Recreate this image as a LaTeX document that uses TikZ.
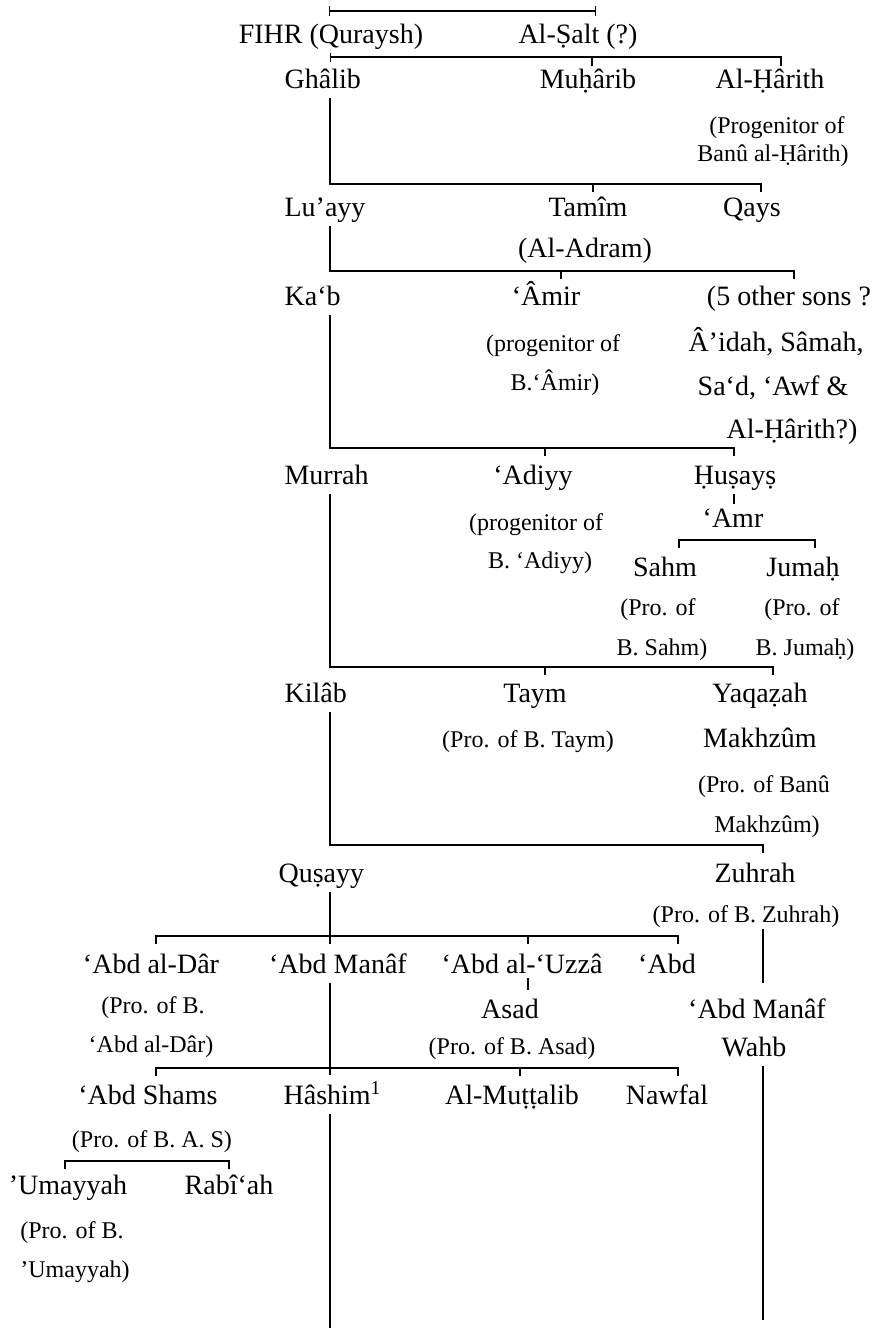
\documentclass[tikz,border=0pt]{standalone}
\usepackage{fontspec}
\setmainfont{Liberation Serif}
\usepackage{tikz}
\usetikzlibrary{arrows.meta, calc}

\begin{document}
\begin{tikzpicture}[x=1pt, y=-1pt, line width=1.2pt,
  name node/.style={anchor=base, inner sep=2pt, text height=20pt, text depth=7pt, font=\fontsize{28}{32}\selectfont},
  trunk node/.style={name node, anchor=base west},
  note node/.style={anchor=base, inner sep=1pt, font=\fontsize{24}{28}\selectfont}]

		\useasboundingbox (0,0) rectangle (881,1328);

		% Nodes
		\node[name node] (fihr) at (331,43) {FIHR (Quraysh)};
		\node[name node] (salt) at (578,43) {Al-Ṣalt (?)};

		\node[trunk node] (ghalib) at (282,88) {Ghâlib};
		\node[name node] (muharib) at (588,88) {Muḥârib};
		\node[name node] (harith) at (770,88) {Al-Ḥârith};
		\node[note node] (harith note a) at (777,133) {(Progenitor of};
		\node[note node] (harith note b) at (773,161) {Banû al-Ḥârith)};

		\node[trunk node] (luayy) at (282,216) {Lu’ayy};
		\node[name node] (tamim) at (588,216) {Tamîm};
		\node[name node] (qays) at (752,216) {Qays};
		\node[name node] (adram) at (585,257) {(Al-Adram)};

		\node[trunk node] (kab) at (282,305) {Ka‘b};
		\node[name node] (amir) at (546,305) {‘Âmir};
		\node[note node] (amir note a) at (553,351) {(progenitor of};
		\node[note node] (amir note b) at (555,390) {B.‘Âmir)};
		\node[name node] (sons a) at (789,305) {(5 other sons ?};
		\node[name node] (sons b) at (776,351) {Â’idah, Sâmah,};
		\node[name node] (sons c) at (773,395) {Sa‘d, ‘Awf \&};
		\node[name node] (sons d) at (792,438) {Al-Ḥârith?)};

		\node[trunk node] (murrah) at (282,484) {Murrah};
		\node[name node] (adiyy) at (533,484) {‘Adiyy};
		\node[note node] (adiyy note a) at (536,530) {(progenitor of};
		\node[note node] (adiyy note b) at (540,568) {B. ‘Adiyy)};
		\node[name node] (husays) at (735,484) {Ḥuṣayṣ};
		\node[name node] (amr) at (733,527) {‘Amr};
		\node[name node] (sahm) at (665,576) {Sahm};
		\node[name node] (jumah) at (803,576) {Jumaḥ};
		\node[note node] (sahm note a) at (658,615) {(Pro. of};
		\node[note node] (sahm note b) at (662,655) {B. Sahm)};
		\node[note node] (jumah note a) at (802,615) {(Pro. of};
		\node[note node] (jumah note b) at (805,655) {B. Jumaḥ)};

		\node[trunk node] (kilab) at (282,702) {Kilâb};
		\node[name node] (taym) at (535,702) {Taym};
		\node[note node] (taym note) at (528,747) {(Pro. of B. Taym)};
		\node[name node] (yaqazah) at (760,702) {Yaqaẓah};
		\node[name node] (makhzum) at (760,747) {Makhzûm};
		\node[note node] (makhzum note a) at (764,792) {(Pro. of Banû};
		\node[note node] (makhzum note b) at (767,832) {Makhzûm)};

		\node[trunk node] (qusayy) at (276,882) {Quṣayy};
		\node[name node] (zuhrah) at (755,882) {Zuhrah};
		\node[note node] (zuhrah note) at (746,922) {(Pro. of B. Zuhrah)};

		\node[name node] (abd dar) at (151,973) {‘Abd al-Dâr};
		\node[note node] (dar note a) at (153,1013) {(Pro. of B.};
		\node[note node] (dar note b) at (151,1052) {‘Abd al-Dâr)};
		\node[name node] (abd manaf) at (338,973) {‘Abd Manâf};
		\node[name node] (uzza) at (522,973) {‘Abd al-‘Uzzâ};
		\node[name node] (asad) at (510,1018) {Asad};
		\node[note node] (asad note) at (512,1054) {(Pro. of B. Asad)};
		\node[name node] (abd manaf z) at (757,1018) {‘Abd Manâf};
		\node[name node] (abd) at (667,973) {‘Abd};
		\node[name node] (wahb) at (754,1056) {Wahb};

		\node[name node] (abd shams) at (148,1104) {‘Abd Shams};
		\node[note node] (shams note) at (152,1147) {(Pro. of B. A. S)};
		\node[trunk node] (hashim) at (281,1104) {Hâshim\textsuperscript{1}};
		\node[name node] (muttalib) at (512,1104) {Al-Muṭṭalib};
		\node[name node] (nawfal) at (667,1104) {Nawfal};

		\node[name node] (umayyah) at (68,1194) {’Umayyah};
		\node[name node] (rabiah) at (229,1194) {Rabî‘ah};
		\node[note node] (umayyah note a) at (72,1238) {(Pro. of B.};
		\node[note node] (umayyah note b) at (75,1277) {’Umayyah)};

		% Bar points
		\coordinate (trunk) at (330,0);
		\coordinate (right trunk) at (763,0);
		\coordinate (b1a) at (329,11);  \coordinate (b1b) at (596,11);
		\coordinate (b2a) at (330,57);  \coordinate (b2b) at (592,57);  \coordinate (b2c) at (781,57);
		\coordinate (b3a) at (330,184); \coordinate (b3b) at (593,184); \coordinate (b3c) at (761,184);
		\coordinate (b4a) at (330,271); \coordinate (b4b) at (561,271); \coordinate (b4c) at (794,271);
		\coordinate (b5a) at (330,448); \coordinate (b5b) at (545,448); \coordinate (b5c) at (734,448);
		\coordinate (b6a) at (679,540); \coordinate (b6b) at (815,540);
		\coordinate (b7a) at (330,667); \coordinate (b7b) at (545,667); \coordinate (b7c) at (773,667);
		\coordinate (b8a) at (330,845); \coordinate (b8b) at (763,845);
		\coordinate (b9a) at (156,936); \coordinate (b9b) at (330,936); \coordinate (b9c) at (528,936); \coordinate (b9d) at (678,936);
		\coordinate (b10a) at (156,1068); \coordinate (b10b) at (330,1068); \coordinate (b10c) at (520,1068); \coordinate (b10d) at (678,1068);
		\coordinate (b11a) at (65,1161); \coordinate (b11b) at (229,1161);
		\coordinate (end left) at (330,1328);
		\coordinate (end right) at (763,1320);

		% Edges (connections)
		\draw[{Bar[width=10pt]}-{Bar[width=10pt]}] (b1a) -- (b1b);
		\draw[{Bar[width=9pt]}-] (b2a) -- (b2c) -- ++(0,9);
		\draw (b2b) -- ++(0,9);

		\draw (trunk |- ghalib.south) -- (b3a) -- (b3c) -- ++(0,8);
		\draw (b3b) -- ++(0,8);

		\draw (trunk |- luayy.south) -- (b4a) -- (b4c) -- ++(0,8);
		\draw (b4b) -- ++(0,8);

		\draw (trunk |- kab.south) -- (b5a) -- (b5c) -- ++(0,8);
		\draw (b5b) -- ++(0,8);
		\draw (husays.south -| b5c) -- (amr.north -| b5c);
		\draw (b6a) ++(0,8) -- (b6a) -- (b6b) -- ++(0,8);

		\draw (trunk |- murrah.south) -- (b7a) -- (b7c) -- ++(0,8);
		\draw (b7b) -- ++(0,8);

		\draw (trunk |- kilab.south) -- (b8a) -- (b8b) -- ++(0,8);

		\draw (trunk |- qusayy.south) -- (b9b) -- ++(0,8);
		\draw (b9a) ++(0,8) -- (b9a) -- (b9d) -- ++(0,8);
		\draw (b9c) -- ++(0,8);
		\draw ([yshift=-5pt]uzza.base -| b9c) -- ([yshift=5pt]asad.north -| b9c);
		\draw (zuhrah note.south -| right trunk) -- ([yshift=12pt]abd manaf z.north -| right trunk);

		\draw (trunk |- abd manaf.south) -- (b10b) -- ++(0,7);
		\draw (b10a) ++(0,8) -- (b10a) -- (b10d) -- ++(0,8);
		\draw (b10c) -- ++(0,8);

		\draw (b11a) ++(0,8) -- (b11a) -- (b11b) -- ++(0,8);

		\draw (trunk |- hashim.south) -- (end left);
		\draw (right trunk |- wahb.south) -- (end right);
	\end{tikzpicture}
\end{document}
